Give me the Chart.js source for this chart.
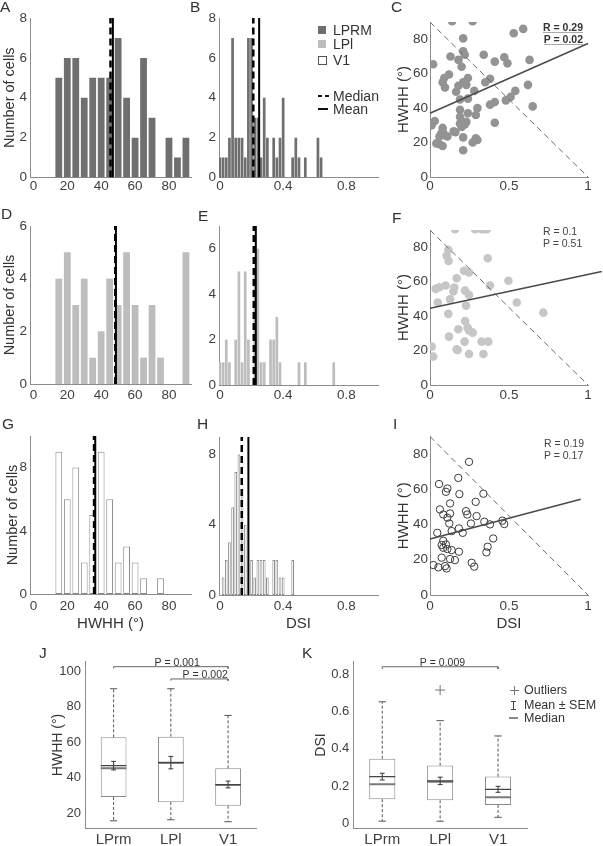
<!DOCTYPE html>
<html><head><meta charset="utf-8">
<script src="https://cdn.jsdelivr.net/npm/chart.js@4.4.1/dist/chart.umd.min.js"></script>
<style>
html,body{margin:0;padding:0;background:#fff}
#wrap{position:relative;width:603px;height:846px;overflow:hidden;background:#fff;font-family:'Liberation Sans',Arial,Helvetica,sans-serif;color:#333}
#wrap canvas{position:absolute;left:0;top:0}
.t{position:absolute;white-space:nowrap;line-height:1;z-index:5}
.L{font-size:15.5px;color:#333}
.lg{font-size:14px;color:#333}
.sw{position:absolute;z-index:5}
.an{font-size:10.5px;color:#444}
.kl{font-size:12.5px;color:#333}
</style></head><body>
<div id="wrap">
<div class="t L" style="left:0px;top:-0.6px">A</div>
<div class="t L" style="left:190px;top:-0.6px">B</div>
<div class="t L" style="left:391px;top:-0.6px">C</div>
<div class="t L" style="left:1px;top:206.4px">D</div>
<div class="t L" style="left:198px;top:208.4px">E</div>
<div class="t L" style="left:392px;top:210.4px">F</div>
<div class="t L" style="left:2px;top:416.4px">G</div>
<div class="t L" style="left:197px;top:416.4px">H</div>
<div class="t L" style="left:393px;top:416.4px">I</div>
<div class="t L" style="left:39px;top:645.4px">J</div>
<div class="t L" style="left:302px;top:645.4px">K</div>

<div class="sw" style="left:318px;top:26px;width:8px;height:8px;background:#6f6f6f"></div>
<div class="t lg" style="left:333px;top:22.8px">LPRM</div>
<div class="sw" style="left:318px;top:40.3px;width:8px;height:8px;background:#bdbdbd"></div>
<div class="t lg" style="left:333px;top:37.4px">LPl</div>
<div class="sw" style="left:318px;top:56px;width:7px;height:7px;background:#fff;border:1px solid #555"></div>
<div class="t lg" style="left:333px;top:53.1px">V1</div>
<div class="sw" style="left:318px;top:94.5px;width:4px;height:2.5px;background:#111"></div>
<div class="sw" style="left:324.5px;top:94.5px;width:4px;height:2.5px;background:#111"></div>
<div class="t lg" style="left:333px;top:88.8px">Median</div>
<div class="sw" style="left:318px;top:108.3px;width:10px;height:2px;background:#111"></div>
<div class="t lg" style="left:333px;top:102.4px">Mean</div>

<div class="t an" style="right:20px;top:22.4px;font-weight:bold;color:#333;text-decoration:underline;text-decoration-color:#aaa">R = 0.29</div>
<div class="t an" style="right:20px;top:33.9px;font-weight:bold;color:#333;text-decoration:underline;text-decoration-color:#aaa">P = 0.02</div>
<div class="t an" style="left:543px;top:225.9px">R = 0.1</div>
<div class="t an" style="left:543px;top:237.9px">P = 0.51</div>
<div class="t an" style="left:544px;top:437.9px">R = 0.19</div>
<div class="t an" style="left:544px;top:449.9px">P = 0.17</div>

<div class="sw" style="left:509.5px;top:689.5px;width:9px;height:1px;background:#777"></div>
<div class="sw" style="left:513.5px;top:685.5px;width:1px;height:9px;background:#777"></div>
<div class="t kl" style="left:524px;top:683.9px">Outliers</div>
<div class="sw" style="left:513px;top:700.5px;width:1px;height:9px;background:#444"></div>
<div class="sw" style="left:511px;top:700.5px;width:5px;height:1px;background:#444"></div>
<div class="sw" style="left:511px;top:708.5px;width:5px;height:1px;background:#444"></div>
<div class="t kl" style="left:524px;top:698.9px">Mean ± SEM</div>
<div class="sw" style="left:509px;top:717px;width:9px;height:2px;background:#888"></div>
<div class="t kl" style="left:524px;top:711.9px">Median</div>
</div>
<script>
// ---------------- DATA ----------------
const hwhhBinCenters = [15,20,25,30,35,40,45,50,55,60,65,70,75,80,85,90];
const hwhhCountsLPRM = [5,6,6,4,5,5,5,7,4,2,6,3,0,2,1,2];
const hwhhCountsLPl  = [4,5,3,4,1,2,4,3,5,3,1,3,1,0,0,5];
const hwhhCountsV1   = [9,6,8,2,5,9,6,2,3,2,1,0,1,0,0,0];

const dsiBinCenters = [0,0.02,0.04,0.06,0.08,0.10,0.12,0.14,0.16,0.18,0.20,0.22,0.24,0.26,0.28,0.30,0.32,0.34,0.36,0.38,0.40,0.42,0.44,0.46,0.48,0.50,0.52,0.54,0.56,0.58,0.60,0.62,0.64,0.66,0.68,0.70,0.72];
const dsiCountsLPRM = [1,1,1,2,7,2,2,2,1,7,7,3,3,1,4,2,0,2,1,2,4,0,0,1,2,1,0,1,0,0,0,2,1,0,0,0,0];
const dsiCountsLPl  = [1,1,2,1,0,2,5,1,5,2,0,5,6,1,1,0,2,2,3,1,0,0,0,0,0,1,0,1,0,0,0,0,0,0,0,0,1];
const dsiCountsV1   = [0,1,2,3,5,7,8,6,4,0,2,1,2,2,2,1,0,2,2,1,1,0,0,2,0,0,0,0,0,0,0,0,0,0,0,0,0];

// order: LPRM, LPl, V1
const hwhhMedian = [45.5, 48.3, 35.8];
const hwhhMean   = [46.9, 48.7, 36.5];
const dsiMedian  = [0.211, 0.214, 0.138];
const dsiMean    = [0.248, 0.227, 0.180];

const lprmDSI  = [0.14,0.27,0.53,0.59,0.21,0.21,0.22,0.13,0.18,0.34,0.02,0.2,0.47,0.49,0.41,0.63,0.12,0.09,0.08,0.095,0.24,0.18,0.21,0.23,0.35,0.38,0.28,0.165,0.19,0.24,0.54,0.51,0.48,0.62,0.41,0.38,0.65,0.3,0.19,0.19,0.24,0.29,0.41,0.23,0.22,0.19,0.2,0.16,0.21,0.01,0.03,0.08,0.08,0.07,0.06,0.1,0.15,0.29,0.3,0.27,0.04,0.06,0.08,0.21,0.11];
const lprmHWHH = [90.5,90.5,83.5,86,80.5,73,71,70,68,71,65.5,64,69.5,66,67,68,59.5,57.5,55,52,57.5,53,55,53.5,55,57,50,49.5,45,45.5,50,46.5,44.5,53.5,43.5,42,41,40,39,35,37,36,31.5,32,30.5,31,29,26,23,30,32.5,28.5,26.5,25,23.5,24,26.5,22.5,21.5,20,19.5,19,18,15.5,23.5];
const lplDSI   = [0.158,0.285,0.327,0.348,0.359,0.116,0.105,0.118,0.365,0.215,0.247,0.169,0.036,0.059,0.099,0.154,0.148,0.222,0.247,0.38,0.496,0.049,0.127,0.228,0.549,0.717,0.116,0.222,0.179,0.238,0.247,0.27,0.12,0.219,0.327,0.369,0.011,0.021,0.169,0.175,0.247,0.338];
const lplHWHH  = [90.5,90.5,90.5,90.5,90.5,78.5,75,72,73.6,66.3,65.3,62,55.8,56.8,57.8,56.6,54.3,54.8,52.3,57.8,60.5,47.9,49.8,46.1,47.9,42,41.3,37.2,32.4,33.3,31.6,30.4,28.1,25.2,25.2,25.2,22.3,16.5,20.7,20.3,18,18];
const v1DSI    = [0.247,0.179,0.057,0.11,0.101,0.186,0.338,0.127,0.289,0.063,0.084,0.11,0.127,0.228,0.236,0.295,0.122,0.183,0.207,0.259,0.344,0.38,0.458,0.47,0.046,0.137,0.4,0.084,0.101,0.074,0.084,0.11,0.137,0.365,0.357,0.074,0.127,0.158,0.183,0.021,0.053,0.095,0.105,0.264,0.28];
const v1HWHH   = [75.6,66.5,63,60.5,58.6,57.3,57.5,52,52.9,48.6,45.7,43.9,46.3,47.6,45.7,44.8,40.6,37.8,35.3,40.6,41.6,40.1,42.2,40.3,35.3,36.3,32.1,30.8,28.7,28.4,26.8,26.1,25.5,27.4,24.2,21.2,20.4,19.8,24.6,17,15.7,16.4,15.1,18.3,16.1];

// linear fits: intercept, slope, x extent of drawn line
const fitIntercept = [37.0, 44.6, 31.8];
const fitSlope     = [40.5, 19.6, 23.6];
const fitXEnd      = [1.0, 1.087, 0.954];
const diagX = [0, 1];
const diagY = [90, 0];

// box plots
const groups = ['LPrm', 'LPl', 'V1'];
const hwhhMin = [15.8, 16.4, 15.3];
const hwhhQ1  = [29.2, 26.3, 24.3];
const hwhhMed = [45.3, 48.4, 35.9];
const hwhhQ3  = [62.7, 63.1, 45.3];
const hwhhMax = [90, 90, 75];
const hwhhBoxMean = [46.8, 48.5, 36.2];
const hwhhSem = [2.4, 3.5, 1.9];
const dsiMin = [0.011, 0.011, 0.032];
const dsiQ1  = [0.129, 0.123, 0.098];
const dsiMed = [0.209, 0.223, 0.139];
const dsiQ3  = [0.346, 0.309, 0.250];
const dsiMax = [0.651, 0.550, 0.468];
const dsiBoxMean = [0.250, 0.227, 0.182];
const dsiSem = [0.018, 0.020, 0.016];
const dsiOutlierGroup = [1];
const dsiOutlierValue = [0.714];
const sigJ = [{from:0, to:2, y:102.4, label:'P = 0.001', tx:1.11}, {from:1, to:2, y:95.5, label:'P = 0.002', tx:1.6}];
const sigK = [{from:0, to:2, y:0.839, label:'P = 0.009', tx:1.04}];

const ticksHWHH = [0,20,40,60,80];
const ticksDSI = [0,0.4,0.8];
const ticksScatX = [0,0.5,1];
const ticksScatY = [0,20,40,60,80];

// ---------------- RENDER ----------------
const W = 603, H = 846;
Chart.defaults.font.family = "'Liberation Sans', Arial, Helvetica, sans-serif";
Chart.defaults.color = '#404040';
Chart.defaults.animation = false;
Chart.defaults.events = [];
Chart.defaults.plugins.legend.display = false;
Chart.defaults.plugins.tooltip.enabled = false;
const AX = '#8c8c8c';

function newCanvas() {
  const c = document.createElement('canvas');
  c.width = W; c.height = H; c.style.width = W + 'px'; c.style.height = H + 'px';
  document.getElementById('wrap').appendChild(c);
  return c;
}
function axis(min, max, ticks, o) {
  o = o || {};
  return {
    type: 'linear', min: min, max: max, offset: false,
    grid: {display: false, drawTicks: false},
    border: {display: true, color: AX, width: 1},
    ticks: {font: {size: o.fs || 13.5}, padding: o.pad == null ? 2 : o.pad, color: '#404040', autoSkip: false,
            maxRotation: 0, minRotation: 0, callback: o.cb || (v => String(v))},
    title: o.title ? {display: true, text: o.title, font: {size: o.tfs || 15}, color: '#333', padding: 0} : {display: false},
    afterBuildTicks: s => { s.ticks = ticks.map(v => ({value: v})); },
    afterFit: s => { if (o.size != null) { if (s.isHorizontal()) s.height = o.size; else s.width = o.size; } }
  };
}
function layoutFor(a) { return {padding: {left: a.l - a.yw, top: a.t, right: W - a.r, bottom: H - a.b - a.xh}}; }
function seg(points, color, width, dash, order, clip) {
  return {type: 'line', data: points, borderColor: color, borderWidth: width, borderDash: dash || [],
          pointRadius: 0, fill: false, spanGaps: false, order: order == null ? 1 : order, clip: clip === false ? false : undefined,
          tension: 0};
}

function hist(a, bins, counts, style, xr, yr, xt, yt, med, mean, yTitle, xTitle, barPct) {
  const data = bins.map((b, i) => ({x: b, y: counts[i]})).filter(p => p.y > 0);
  new Chart(newCanvas(), {
    type: 'bar',
    data: {datasets: [
      {type: 'bar', data: data, backgroundColor: style.fill, borderColor: style.border || style.fill,
       borderWidth: style.bw || 0, borderSkipped: false, barPercentage: barPct, categoryPercentage: 1, grouped: false, order: 5},
      seg([{x: med, y: yr[0]}, {x: med, y: yr[1]}], '#000', 2.5, [7, 4], 2),
      seg([{x: mean, y: yr[0]}, {x: mean, y: yr[1]}], '#000', 2, [], 1)
    ]},
    options: {responsive: false, layout: layoutFor(a),
      scales: {x: axis(xr[0], xr[1], xt, {size: a.xh, pad: a.xp, title: xTitle}),
               y: axis(yr[0], yr[1], yt, {size: a.yw, pad: 3, title: yTitle, tfs: 14.5})}}
  });
}

function scat(a, xs, ys, k, st, yTitle, xTitle) {
  const pts = xs.map((x, i) => ({x: x, y: ys[i]}));
  const fit = [{x: 0, y: fitIntercept[k]}, {x: fitXEnd[k], y: fitIntercept[k] + fitSlope[k] * fitXEnd[k]}];
  const diag = diagX.map((x, i) => ({x: x, y: diagY[i]}));
  new Chart(newCanvas(), {
    type: 'scatter',
    data: {datasets: [
      Object.assign(seg(fit, '#4a4a4a', 1.5, [], 1, false), {showLine: true}),
      Object.assign(seg(diag, '#6a6a6a', 1, [6, 4], 2), {showLine: true}),
      {type: 'scatter', data: pts, pointRadius: st.r, backgroundColor: st.fill, borderColor: st.stroke,
       borderWidth: st.bw, order: 5}
    ]},
    options: {responsive: false, layout: layoutFor(a),
      scales: {x: axis(0, 1, ticksScatX, {size: a.xh, pad: a.xp, title: xTitle}),
               y: axis(0, 90, ticksScatY, {size: a.yw, pad: 2, title: yTitle, tfs: 15})}}
  });
}

const txtPlugin = {
  id: 'txt',
  afterDatasetsDraw(chart, args, opts) {
    const ctx = chart.ctx, xs = chart.scales.x, ys = chart.scales.y;
    (opts.items || []).forEach(it => {
      ctx.save();
      ctx.font = it.font; ctx.fillStyle = it.color; ctx.textAlign = 'center'; ctx.textBaseline = 'alphabetic';
      ctx.fillText(it.text, xs.getPixelForValue(it.x), ys.getPixelForValue(it.y) - it.dy);
      ctx.restore();
    });
  }
};

function box(a, mn, q1, md, q3, mx, mean, sem, outG, outV, sig, yr, yt, yTitle, drop) {
  const half = 0.225, cap = 0.064, ecap = 0.042;
  const boxes = groups.map((g, i) => ({x: i, y: [q1[i], q3[i]]}));
  const whisk = [], caps = [], meds = [], means = [], errs = [];
  groups.forEach((g, i) => {
    whisk.push({x: i, y: q3[i]}, {x: i, y: mx[i]}, {x: i, y: null}, {x: i, y: q1[i]}, {x: i, y: mn[i]}, {x: i, y: null});
    caps.push({x: i - cap, y: mx[i]}, {x: i + cap, y: mx[i]}, {x: i, y: null}, {x: i - cap, y: mn[i]}, {x: i + cap, y: mn[i]}, {x: i, y: null});
    meds.push({x: i - half, y: md[i]}, {x: i + half, y: md[i]}, {x: i, y: null});
    means.push({x: i - half, y: mean[i]}, {x: i + half, y: mean[i]}, {x: i, y: null});
    errs.push({x: i, y: mean[i] - sem[i]}, {x: i, y: mean[i] + sem[i]}, {x: i, y: null},
              {x: i - ecap, y: mean[i] - sem[i]}, {x: i + ecap, y: mean[i] - sem[i]}, {x: i, y: null},
              {x: i - ecap, y: mean[i] + sem[i]}, {x: i + ecap, y: mean[i] + sem[i]}, {x: i, y: null});
  });
  const sigPts = [];
  sig.forEach(s => { sigPts.push({x: s.from, y: s.y - drop}, {x: s.from, y: s.y}, {x: s.to, y: s.y}, {x: s.to, y: s.y - drop}, {x: s.to, y: null}); });
  const outl = outG.map((g, i) => ({x: g, y: outV[i]}));
  new Chart(newCanvas(), {
    type: 'bar',
    data: {datasets: [
      {type: 'bar', data: boxes, backgroundColor: '#ffffff', borderColor: '#8a8a8a', borderWidth: 1, borderSkipped: false,
       barPercentage: 0.45, categoryPercentage: 1, grouped: false, order: 10},
      seg(whisk, '#555', 1, [3, 2], 4),
      seg(caps, '#555', 1, [], 3),
      seg(meds, '#7a7a7a', 2, [], 2),
      seg(means, '#444', 1.2, [], 1),
      seg(errs, '#333', 1, [], 1),
      seg(sigPts, '#666', 1, [], 1, false),
      {type: 'scatter', data: outl, pointStyle: 'cross', pointRadius: 5, borderColor: '#777', borderWidth: 1, order: 1}
    ]},
    plugins: [txtPlugin],
    options: {responsive: false, layout: layoutFor(a),
      plugins: {txt: {items: sig.map(s => ({text: s.label, x: s.tx, y: s.y, dy: 1, font: "10.5px 'Liberation Sans', Arial, sans-serif", color: '#333'}))}},
      scales: {x: axis(-0.5, 2.5, [0, 1, 2], {size: a.xh, pad: a.xp, fs: 15, cb: v => groups[v]}),
               y: axis(yr[0], yr[1], yt, {size: a.yw, pad: 4, fs: 13, title: yTitle, tfs: 14})}}
  });
}

const dark = {fill: '#6f6f6f'}, light = {fill: '#bdbdbd'}, open = {fill: '#ffffff', border: '#8a8a8a', bw: 1};

hist({l:30, r:191, t:18, b:177.5, yw:29.2, xh:20, xp:1}, hwhhBinCenters, hwhhCountsLPRM, dark, [-2, 93], [0, 8], ticksHWHH, [0,2,4,6,8], hwhhMedian[0], hwhhMean[0], 'Number of cells', null, 0.8);
hist({l:219, r:378, t:18, b:177.5, yw:20, xh:20, xp:1}, dsiBinCenters, dsiCountsLPRM, dark, [-0.006, 1.0], [0, 8], ticksDSI, [0,2,4,6,8], dsiMedian[0], dsiMean[0], null, null, 0.85);
scat({l:430, r:588, t:22, b:177, yw:35, xh:20, xp:1.3}, lprmDSI, lprmHWHH, 0, {r: 4.3, fill: '#939393', stroke: '#939393', bw: 0}, 'HWHH (°)', null);

hist({l:30, r:191, t:226, b:384, yw:29.2, xh:20, xp:2.8}, hwhhBinCenters, hwhhCountsLPl, light, [-2, 93], [0, 6], ticksHWHH, [0,2,4,6], hwhhMedian[1], hwhhMean[1], 'Number of cells', null, 0.8);
hist({l:219, r:378, t:226, b:385, yw:20, xh:20, xp:1.8}, dsiBinCenters, dsiCountsLPl, light, [-0.006, 1.0], [0, 7], ticksDSI, [0,2,4,6], dsiMedian[1], dsiMean[1], null, null, 0.85);
scat({l:430, r:588, t:230, b:385, yw:35, xh:20, xp:1.8}, lplDSI, lplHWHH, 1, {r: 4.3, fill: '#c6c6c6', stroke: '#c6c6c6', bw: 0}, 'HWHH (°)', null);

hist({l:30, r:191, t:436, b:594, yw:26, xh:39, xp:4}, hwhhBinCenters, hwhhCountsV1, open, [-2, 93], [0, 10], ticksHWHH, [0,4,8], hwhhMedian[2], hwhhMean[2], 'Number of cells', 'HWHH (°)', 0.8);
hist({l:219, r:378, t:437, b:595, yw:20, xh:38, xp:3.5}, dsiBinCenters, dsiCountsV1, open, [-0.006, 1.0], [0, 9], ticksDSI, [0,4,8], dsiMedian[2], dsiMean[2], null, 'DSI', 0.85);
scat({l:430, r:588, t:436.5, b:595, yw:35, xh:38, xp:3.5}, v1DSI, v1HWHH, 2, {r: 3.7, fill: 'rgba(255,255,255,0)', stroke: '#3a3a3a', bw: 1}, 'HWHH (°)', 'DSI');

box({l:85, r:256.7, t:661.7, b:828.3, yw:35.1, xh:17.7, xp:3}, hwhhMin, hwhhQ1, hwhhMed, hwhhQ3, hwhhMax, hwhhBoxMean, hwhhSem, [], [], sigJ, [11.6, 105.2], [20,40,60,80,100], 'HWHH (°)', 1);
box({l:353.3, r:527, t:661.7, b:828.3, yw:41, xh:17.7, xp:3}, dsiMin, dsiQ1, dsiMed, dsiQ3, dsiMax, dsiBoxMean, dsiSem, dsiOutlierGroup, dsiOutlierValue, sigK, [-0.027, 0.866], [0,0.2,0.4,0.6,0.8], 'DSI', 0.012);
</script>
</body></html>
